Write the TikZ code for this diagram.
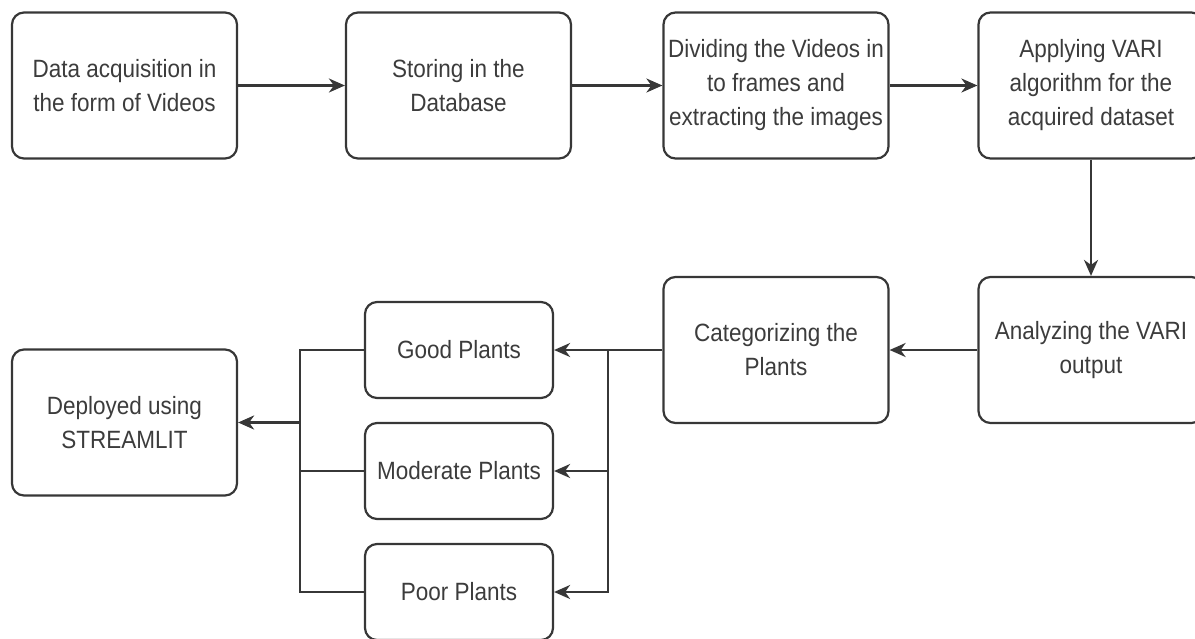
\documentclass[tikz,border=0pt]{standalone}
\usepackage{fontspec}
\setmainfont{Liberation Sans}[FakeStretch=0.9]
\usepackage{tikz}
\usetikzlibrary{arrows.meta}
\definecolor{boxline}{RGB}{55,55,55}
\definecolor{boxtext}{RGB}{60,60,60}

\begin{document}
\begin{tikzpicture}[x=0.5pt,y=0.5pt,yscale=-1,xscale=1,
  stage/.style={draw=boxline, line width=1.1pt, rounded corners=6pt, minimum width=112.5pt, minimum height=73pt, inner sep=0pt, align=center, text=boxtext, font=\fontsize{12.5}{17}\selectfont},
  grade/.style={stage, minimum width=94pt, minimum height=48pt},
  link/.style={draw=boxline, line width=1.1pt},
  flow/.style={link, -{Stealth[length=8pt,width=7pt,inset=2.5pt]}}]
%set diagram left start at 0, and has height of 638
\useasboundingbox (0,0) rectangle (1195,638);

% Top row
\node[stage] (acquire) at (124.5,85.5) {Data acquisition in\\the form of Videos};
\node[stage] (store) at (458.5,85.5) {Storing in the\\Database};
\node[stage] (divide) at (776,85.5) {Dividing the Videos in\\to frames and\\extracting the images};
\node[stage] (vari) at (1091,85.5) {Applying VARI\\algorithm for the\\acquired dataset};

% Middle row
\node[stage] (analyze) at (1091,350) {Analyzing the VARI\\output};
\node[stage] (sort) at (776,350) {Categorizing the\\Plants};

% Categories
\node[grade] (good) at (459,350) {Good Plants};
\node[grade] (moderate) at (459,471) {Moderate Plants};
\node[grade] (poor) at (459,592) {Poor Plants};

% Final stage
\node[stage] (deploy) at (124.5,422.5) {Deployed using\\STREAMLIT};

% Junctions
\coordinate (split) at (608,350);
\coordinate (merge) at (300,422.5);

% Straight Lines
\draw[flow] (acquire) -- (store);
\draw[flow] (store) -- (divide);
\draw[flow] (divide) -- (vari);
\draw[flow] (vari) -- (analyze);
\draw[flow] (analyze) -- (sort);

% Fan out
\draw[link] (sort.west) -- (split);
\draw[flow] (split) -- (good.east);
\draw[flow] (split |- moderate.east) -- (moderate.east);
\draw[flow] (split) |- (poor.east);

% Fan in
\draw[link] (good.west) -- (good.west -| merge) -- (poor.west -| merge) -- (poor.west);
\draw[link] (moderate.west) -- (moderate.west -| merge);
\draw[flow, line width=1.4pt] (merge) -- (deploy.east);

\end{tikzpicture}
\end{document}
